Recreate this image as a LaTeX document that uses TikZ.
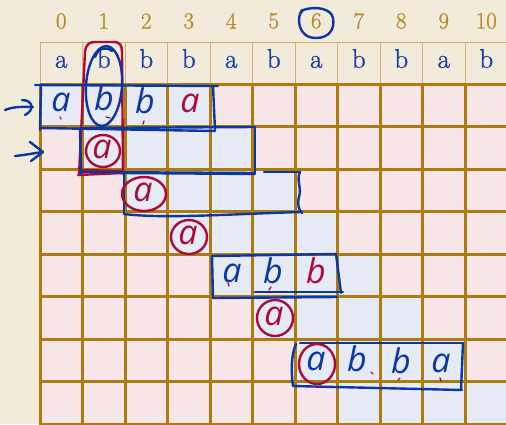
\documentclass[tikz,border=0pt]{standalone}
\usepackage{fontspec}
\newfontfamily\hand{Open Sans}
\newfontfamily\hdrfont{Latin Modern Roman}[FakeBold=1.2]
\definecolor{bgc}{RGB}{243,235,218}
\definecolor{pinkc}{RGB}{246,230,232}
\definecolor{bluec}{RGB}{230,234,245}
\definecolor{gridc}{RGB}{174,122,12}
\definecolor{hdrc}{RGB}{212,178,110}
\definecolor{digc}{RGB}{184,137,42}
\definecolor{letc}{RGB}{28,63,166}
\definecolor{inkb}{RGB}{11,54,166}
\definecolor{inkr}{RGB}{173,10,58}
\tikzset{
  gridline/.style={draw=gridc,line width=3pt},
  hdrcell/.style={draw=hdrc,line width=1pt},
  idx/.style={text=digc,font=\hdrfont\fontsize{23}{26}\selectfont,inner sep=0pt},
  hlet/.style={text=letc,font=\hdrfont\fontsize{27}{29}\selectfont,inner sep=0pt},
  bink/.style={draw=inkb,line width=2.4pt,line cap=round,line join=round},
  rink/.style={draw=inkr,line width=2.4pt,line cap=round,line join=round},
  bhw/.style={text=inkb,font=\hand\itshape\fontsize{34}{34}\selectfont,inner sep=0pt},
  rhw/.style={text=inkr,font=\hand\itshape\fontsize{34}{34}\selectfont,inner sep=0pt},
  tick/.style={draw=inkr,line width=1.3pt,line cap=round}
}
\begin{document}
\begin{tikzpicture}[x=1pt,y=-1pt]
\fill[bgc] (0,0) rectangle (506,424);
\useasboundingbox (0,0) rectangle (506,424);
% cells
\foreach \r in {0,...,7}{
  \foreach \c in {0,...,10}{
    \pgfmathtruncatemacro{\inb}{(\c>=\r)&&(\c<=\r+3)}
    \ifnum\inb=1
      \fill[bluec] ({40+42.5*\c},{84+42.5*\r}) rectangle ++(42.5,42.5);
    \else
      \fill[pinkc] ({40+42.5*\c},{84+42.5*\r}) rectangle ++(42.5,42.5);
    \fi
  }
}
% header cells
\foreach \c in {0,...,10}{
  \draw[hdrcell] ({40+42.5*\c},42) rectangle ++(42.5,42);
}
% grid lines
\foreach \c in {0,...,11}{
  \draw[gridline] ({40+42.5*\c},84) -- ({40+42.5*\c},426);
}
\foreach \r in {0,...,8}{
  \draw[gridline] (40,{84+42.5*\r}) -- (508,{84+42.5*\r});
}
% index numbers and header letters
\foreach \c/\l in {0/a,1/b,2/b,3/b,4/a,5/b,6/a,7/b,8/b,9/a,10/b}{
  \node[idx] (i\c) at ({61.25+42.5*\c},21) {\c};
  \node[hlet] (h\c) at ({61.25+42.5*\c},62) {\strut\l};
}
% blue circle around index 6
\draw[bink] (302,10) .. controls (296,18) and (298,38) .. (316,38)
  .. controls (330,38) and (335,28) .. (333,18)
  .. controls (331,8) and (315,6) .. (303,10) -- (300,14);
% red rectangle around column 1
\draw[rink] (79,175) -- (85,52) .. controls (86,44) and (89,42) .. (96,42) -- (113,42)
  .. controls (120,42) and (122,45) .. (122,52) -- (123,174);
\draw[rink] (78,175) -- (123,173);
\draw[rink] (81,170) -- (122,171);
% blue ellipse around column 1 b's
\draw[bink,rotate around={-4:(104,86)}] (104,86) ellipse [x radius=18,y radius=40];
\draw[bink] (95,57) .. controls (98,48) and (106,46) .. (112,51);
% arrows
\draw[bink] (5,110) .. controls (15,106) and (24,107) .. (33,107);
\draw[bink] (22,100) .. controls (33,100) and (35,110) .. (25,115);
\draw[bink] (15,156) .. controls (25,155) and (35,153) .. (43,152);
\draw[bink] (30,142) -- (43,152) -- (31,161);
% row 0 box
\draw[bink] (35,85) -- (218,86);
\draw[bink] (41,86) -- (40,130);
\draw[bink] (213,86) -- (215,130);
\draw[bink] (40,128) -- (215,131);
\node[bhw] (r0a) at (61,102) {a};
\node[bhw] (r0b) at (104,98) {b};
\node[bhw] (r0c) at (145,101) {b};
\node[rhw] (r0d) at (190,103) {a};
\draw[tick] (60,117) -- (61,119);
\draw[tick] (106,117) -- (110,118);
\draw[tick] (144,121) -- (143,124);
% row 1 box
\draw[bink] (80,128) -- (255,127);
\draw[bink] (80,129) -- (81,174);
\draw[bink] (255,127) -- (255,172);
\draw[bink] (82,172) -- (255,173);
\draw[rink] (103,151) ellipse [x radius=17,y radius=16];
\node[rhw] (r1a) at (102,149) {a};
% row 2 box
\draw[bink] (124,173) -- (255,174);
\draw[bink] (264,172) -- (300,172);
\draw[bink] (124,173) -- (124,214);
\draw[bink] (124,214) .. controls (165,219) and (230,214) .. (301,212);
\draw[bink] (300,172) .. controls (296,180) and (302,188) .. (299,197) .. controls (297,205) and (299,210) .. (302,213);
\draw[rink] (144,194) ellipse [x radius=22,y radius=17];
\node[rhw] (r2a) at (143,192) {a};
% row 3
\draw[rink] (189,237) ellipse [x radius=18,y radius=17];
\node[rhw] (r3a) at (188,235) {a};
% row 4 box
\draw[bink] (212,256) -- (336,254);
\draw[bink] (212,256) -- (213,298);
\draw[bink] (336,254) -- (341,293);
\draw[bink] (213,298) -- (337,297);
\draw[bink] (255,292) -- (343,292);
\node[bhw] (r4a) at (232,273) {a};
\node[bhw] (r4b) at (273,271) {b};
\node[rhw] (r4c) at (316,271) {b};
\draw[tick] (228,283) -- (229,286);
\draw[tick] (269,290) -- (271,287);
% row 5
\draw[rink] (275,318) ellipse [x radius=18,y radius=18];
\node[rhw] (r5a) at (274,316) {a};
% row 6 box
\draw[bink] (300,343) -- (463,343);
\draw[bink] (296,344) .. controls (291,355) and (291,372) .. (293,386);
\draw[bink] (463,343) -- (461,390);
\draw[bink] (293,386) -- (462,390);
\draw[rink] (317,364) ellipse [x radius=18,y radius=20];
\node[bhw] (r6a) at (316,361) {a};
\node[bhw] (r6b) at (357,359) {b};
\node[bhw] (r6c) at (401,361) {b};
\node[bhw] (r6d) at (441,363) {a};
\draw[tick] (371,372) -- (373,374);
\draw[tick] (400,378) -- (398,380);
\draw[tick] (440,378) -- (441,381);
\end{tikzpicture}
\end{document}
